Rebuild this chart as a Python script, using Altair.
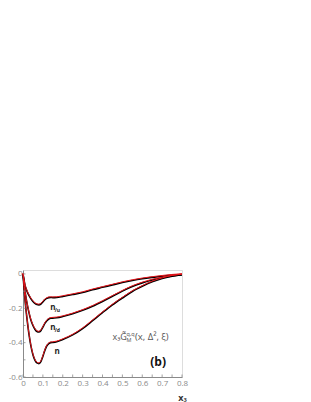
import altair as alt
import pandas as pd

xs = [0.0, 0.01, 0.02, 0.03, 0.04, 0.05, 0.06, 0.07, 0.08, 0.09, 0.10, 0.11, 0.12,
      0.13, 0.14, 0.15, 0.17, 0.20, 0.25, 0.30, 0.35, 0.40, 0.45, 0.50, 0.55,
      0.60, 0.65, 0.70, 0.75, 0.80]
top = [0.0, -0.065, -0.10, -0.125, -0.145, -0.16, -0.172, -0.178, -0.18, -0.175,
       -0.163, -0.150, -0.142, -0.138, -0.137, -0.138, -0.137, -0.131, -0.120,
       -0.108, -0.092, -0.078, -0.064, -0.050, -0.038, -0.028, -0.020, -0.013,
       -0.007, -0.003]
mid = [0.0, -0.10, -0.17, -0.225, -0.27, -0.30, -0.322, -0.335, -0.338, -0.33,
       -0.31, -0.288, -0.272, -0.262, -0.258, -0.257, -0.255, -0.248, -0.232,
       -0.212, -0.188, -0.160, -0.130, -0.100, -0.073, -0.052, -0.035, -0.022,
       -0.012, -0.005]
bot = [0.0, -0.15, -0.26, -0.35, -0.42, -0.47, -0.502, -0.518, -0.522, -0.51,
       -0.48, -0.445, -0.418, -0.405, -0.40, -0.399, -0.395, -0.382, -0.355,
       -0.318, -0.272, -0.225, -0.180, -0.140, -0.102, -0.072, -0.046, -0.027,
       -0.013, -0.005]

series_names = ["n_u", "n_d", "n"]
rows = []
for name, ys in zip(series_names, [top, mid, bot]):
    for x, y in zip(xs, ys):
        rows.append({"x": x, "y": y, "s": name})
df = pd.DataFrame(rows)

label_main = ["n", "n", "n"]
label_x = [0.137, 0.137, 0.158]
label_y = [-0.21, -0.329, -0.466]
sub_text = ["/u", "/d", ""]

x_ticks = [0, 0.1, 0.2, 0.3, 0.4, 0.5, 0.6, 0.7, 0.8]
y_ticks = [0, -0.2, -0.4, -0.6]
x_minor = [i * 0.05 for i in range(17)]
y_minor = [-i * 0.1 for i in range(7)]

W, H = 159, 107
xs_scale = alt.Scale(domain=[0, 0.8], nice=False, zero=False)
ys_scale = alt.Scale(domain=[-0.6, 0.023], nice=False, zero=False)

font = "Open Sans"
gray = "#8a8a8a"

xenc = alt.X("x:Q", scale=xs_scale,
             axis=alt.Axis(values=x_ticks, title="x₃", titleFont=font,
                           titleFontWeight="bold", titleFontSize=9,
                           titleColor="#333", titleX=W, titleY=16,
                           titleAlign="center", titleBaseline="top",
                           labelExpr="datum.value == 0 ? '0' : format(datum.value, '.1f')",
                           labelFont=font, labelFontSize=8, labelColor=gray,
                           labelPadding=2, labelOverlap=False, labelFlush=False,
                           ticks=False, domainColor=gray, grid=False))
yenc = alt.Y("y:Q", scale=ys_scale,
             axis=alt.Axis(values=y_ticks, title=None,
                           labelExpr="datum.value == 0 ? '0' : '-' + format(abs(datum.value), '.1f')",
                           labelFont=font, labelFontSize=8, labelColor=gray,
                           labelPadding=1, labelOverlap=False, labelFlush=False,
                           ticks=False, domainColor=gray, grid=False))

black = alt.Chart(df).mark_line(color="black", strokeWidth=1.6, interpolate="monotone").encode(
    x=xenc, y=yenc, detail="s:N")
red = alt.Chart(df).mark_line(color="#e8141a", strokeWidth=1.0, interpolate="monotone",
                              yOffset=-0.7).encode(x=xenc, y=yenc, detail="s:N")

tick_df = pd.DataFrame({"x": x_minor})
xt = alt.Chart(tick_df).mark_rule(color=gray, strokeWidth=0.8).encode(
    x=xenc, y=alt.value(H), y2=alt.value(H - 2.5))
ytick_df = pd.DataFrame({"y": y_minor})
yt = alt.Chart(ytick_df).mark_rule(color=gray, strokeWidth=0.8).encode(
    y=yenc, x=alt.value(0), x2=alt.value(2.5))

lab_df = pd.DataFrame({"x": label_x, "y": label_y, "t": label_main, "sub": sub_text})
lab = alt.Chart(lab_df).mark_text(align="left", baseline="alphabetic", font=font,
                                  fontSize=8, fontWeight="bold", color="#222").encode(
    x=xenc, y=yenc, text="t:N")
sub = alt.Chart(lab_df).mark_text(align="left", baseline="alphabetic", font=font,
                                  fontSize=5, fontWeight="bold", color="#222",
                                  dx=4.5, dy=1.5).encode(
    x=xenc, y=yenc, text="sub:N")

ann_x = [0.45]
ann_y = [-0.385]
ann_df = pd.DataFrame({"x": ann_x, "y": ann_y})
a1 = alt.Chart(ann_df).mark_text(align="left", baseline="alphabetic", font=font,
                                 fontSize=9, color="#555", text="x₃G̃").encode(x=xenc, y=yenc)
a2 = alt.Chart(ann_df).mark_text(align="left", baseline="alphabetic", font=font,
                                 fontSize=5.5, color="#555", text="q,q", dx=14, dy=-4.5).encode(x=xenc, y=yenc)
a3 = alt.Chart(ann_df).mark_text(align="left", baseline="alphabetic", font=font,
                                 fontSize=5.5, color="#555", text="M", dx=14, dy=2).encode(x=xenc, y=yenc)
a4 = alt.Chart(ann_df).mark_text(align="left", baseline="alphabetic", font=font,
                                 fontSize=9.5, color="#555", text="(x, Δ², ξ)", dx=22.5).encode(x=xenc, y=yenc)

b_df = pd.DataFrame({"x": [0.68], "y": [-0.537], "t": ["(b)"]})
bl = alt.Chart(b_df).mark_text(align="center", baseline="alphabetic", font=font,
                               fontSize=12, fontWeight="bold", color="#111").encode(
    x=xenc, y=yenc, text="t:N")

chart = alt.layer(black, red, xt, yt, lab, sub, a1, a2, a3, a4, bl).properties(
    width=W, height=H,
    autosize=alt.AutoSizeParams(type="none"),
    padding={"left": 15, "top": 262, "right": 12, "bottom": 25},
).configure_view(stroke=gray, strokeWidth=1).configure(background="white")

chart.save("out.html", embed_options={"renderer": "svg", "actions": False})
